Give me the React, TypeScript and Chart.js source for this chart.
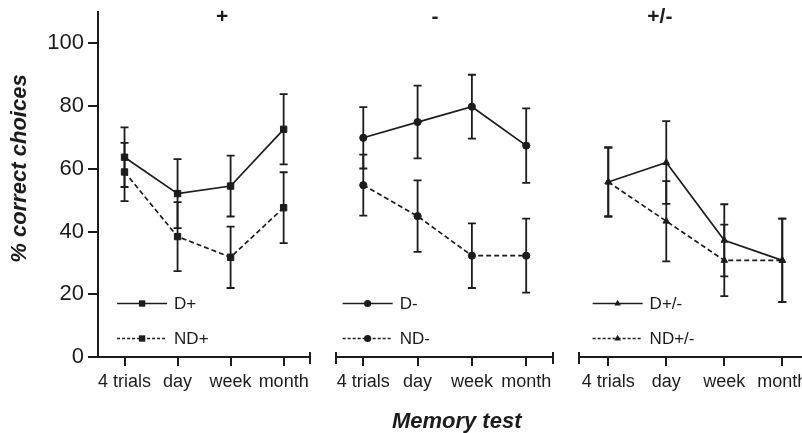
import React, { useEffect, useRef } from 'react';
import { Chart, registerables } from 'chart.js';

Chart.register(...registerables);

// ---------- data ----------
const categories = ['4 trials', 'day', 'week', 'month'];
const panelTitles = ['+', '-', '+/-'];
const yTicks = [0, 20, 40, 60, 80, 100];

const dPlus = [63.7, 52.1, 54.5, 72.6];
const errDPlus = [9.5, 11.0, 9.7, 11.2];
const ndPlus = [59.0, 38.4, 31.8, 47.6];
const errNdPlus = [9.3, 11.0, 9.8, 11.3];

const dMinus = [69.9, 74.9, 79.8, 67.4];
const errDMinus = [9.8, 11.6, 10.2, 11.9];
const ndMinus = [54.8, 44.9, 32.3, 32.3];
const errNdMinus = [9.7, 11.4, 10.3, 11.8];

const dPlusMinus = [55.8, 62.0, 37.2, 30.8];
const errDPlusMinus = [11.0, 13.2, 11.5, 13.3];
const ndPlusMinus = [55.8, 43.3, 30.8, 30.8];
const errNdPlusMinus = [11.0, 12.8, 11.4, 13.3];

const seriesLabels = [
  ['D+', 'ND+'],
  ['D-', 'ND-'],
  ['D+/-', 'ND+/-'],
];

// ---------- layout / style ----------
const INK = '#1c1c1c';
const FONT = '"Liberation Sans", Arial, Helvetica, sans-serif';
const panelRanges = [
  [-0.5, 3.742],
  [-0.742, 3.733],
  [-0.729, 3.34],
];
const panelWeights = [225, 243, 236];
const markerStyles = ['rect', 'circle', 'triangle'];
const markerRadius = [4.5, 3.6, 3.8];
const titleX = [1.84, 1.32, 0.89];
const titleYValue = 108.4;
const legendX = [-0.14, -0.38, -0.27];
const legendYValues = [17.3, 5.9];

function drawMarker(ctx: CanvasRenderingContext2D, style: string, x: number, y: number, r: number) {
  ctx.beginPath();
  if (style === 'rect') {
    const s = Math.SQRT1_2 * r;
    ctx.rect(x - s, y - s, 2 * s, 2 * s);
  } else if (style === 'circle') {
    ctx.arc(x, y, r, 0, Math.PI * 2);
  } else {
    let rad = 0;
    const t = (2 * Math.PI) / 3;
    ctx.moveTo(x + Math.sin(rad) * r, y - Math.cos(rad) * r);
    rad += t;
    ctx.lineTo(x + Math.sin(rad) * r, y - Math.cos(rad) * r);
    rad += t;
    ctx.lineTo(x + Math.sin(rad) * r, y - Math.cos(rad) * r);
    ctx.closePath();
  }
  ctx.fillStyle = INK;
  ctx.fill();
}

const customPlugin = {
  id: 'customDecor',
  beforeDatasetsDraw(chart: any) {
    const ctx: CanvasRenderingContext2D = chart.ctx;
    const yScale = chart.scales.y;
    ctx.save();
    ctx.strokeStyle = INK;
    ctx.lineWidth = 1.8;
    chart.data.datasets.forEach((ds: any) => {
      const xs = chart.scales[ds.xAxisID];
      ds.data.forEach((pt: any, i: number) => {
        const e = ds.errors[i];
        const px = xs.getPixelForValue(pt.x);
        const top = yScale.getPixelForValue(pt.y + e);
        const bot = yScale.getPixelForValue(pt.y - e);
        ctx.beginPath();
        ctx.moveTo(px, top);
        ctx.lineTo(px, bot);
        ctx.moveTo(px - 4, top);
        ctx.lineTo(px + 4, top);
        ctx.moveTo(px - 4, bot);
        ctx.lineTo(px + 4, bot);
        ctx.stroke();
      });
    });
    ctx.restore();
  },
  afterDraw(chart: any) {
    const ctx: CanvasRenderingContext2D = chart.ctx;
    const yScale = chart.scales.y;
    const y0 = chart.chartArea.bottom;
    ctx.save();
    ctx.strokeStyle = INK;
    ctx.fillStyle = INK;
    for (let p = 0; p < 3; p++) {
      const xs = chart.scales['x' + p];
      const a = xs.getPixelForValue(-0.5);
      const b = xs.getPixelForValue(categories.length - 0.5);
      ctx.lineWidth = 2;
      ctx.setLineDash([]);
      ctx.beginPath();
      ctx.moveTo(p === 0 ? a - 1 : a, y0);
      ctx.lineTo(b, y0);
      categories.forEach((_, i) => {
        const px = Math.round(xs.getPixelForValue(i));
        ctx.moveTo(px, y0);
        ctx.lineTo(px, y0 + 9);
      });
      if (p > 0) {
        ctx.moveTo(Math.round(a), y0 - 5);
        ctx.lineTo(Math.round(a), y0 + 7);
      }
      ctx.moveTo(Math.round(b), y0 - 5);
      ctx.lineTo(Math.round(b), y0 + 7);
      ctx.stroke();

      // panel title
      ctx.font = `bold 21px ${FONT}`;
      ctx.textAlign = 'center';
      ctx.textBaseline = 'middle';
      ctx.fillText(panelTitles[p], xs.getPixelForValue(titleX[p]), yScale.getPixelForValue(titleYValue));

      // legend
      const lx = xs.getPixelForValue(legendX[p]);
      for (let k = 0; k < 2; k++) {
        const ly = Math.round(yScale.getPixelForValue(legendYValues[k])) + 0.5;
        ctx.lineWidth = k === 0 ? 1.6 : 1.5;
        ctx.setLineDash(k === 0 ? [] : [3, 2]);
        ctx.beginPath();
        ctx.moveTo(lx, ly);
        ctx.lineTo(lx + 50, ly);
        ctx.stroke();
        ctx.setLineDash([]);
        drawMarker(ctx, markerStyles[p], lx + 25, ly, markerRadius[p]);
        ctx.font = `17px ${FONT}`;
        ctx.textAlign = 'left';
        ctx.textBaseline = 'middle';
        ctx.fillText(seriesLabels[p][k], lx + 57, ly + 1);
      }
    }

    // y axis title
    ctx.save();
    ctx.translate(20, (chart.chartArea.top + y0) / 2 - 16);
    ctx.rotate(-Math.PI / 2);
    ctx.font = `italic bold 22px ${FONT}`;
    ctx.textAlign = 'center';
    ctx.textBaseline = 'middle';
    ctx.fillText('% correct choices', 0, 0);
    ctx.restore();

    // x axis title
    ctx.font = `italic bold 22px ${FONT}`;
    ctx.textAlign = 'center';
    ctx.textBaseline = 'middle';
    ctx.fillText('Memory test', chart.scales.x1.getPixelForValue(1.72), chart.height - 11);
    ctx.restore();
  },
};

const panelData = [
  [dPlus, errDPlus, ndPlus, errNdPlus],
  [dMinus, errDMinus, ndMinus, errNdMinus],
  [dPlusMinus, errDPlusMinus, ndPlusMinus, errNdPlusMinus],
];

export default function App() {
  const canvasRef = useRef<HTMLCanvasElement | null>(null);

  useEffect(() => {
    if (!canvasRef.current) return;
    Chart.defaults.font.family = FONT;

    const datasets: any[] = [];
    panelData.forEach((pd, p) => {
      for (let k = 0; k < 2; k++) {
        const values = pd[k * 2] as number[];
        const errors = pd[k * 2 + 1] as number[];
        datasets.push({
          label: seriesLabels[p][k],
          xAxisID: 'x' + p,
          yAxisID: 'y',
          data: values.map((v, i) => ({ x: i, y: v })),
          errors,
          borderColor: INK,
          backgroundColor: INK,
          borderWidth: 1.7,
          borderDash: k === 0 ? [] : [5, 3],
          pointStyle: markerStyles[p],
          pointRadius: markerRadius[p],
          pointBorderWidth: 1,
          pointBackgroundColor: INK,
          pointBorderColor: INK,
          tension: 0,
          fill: false,
          clip: false,
        });
      }
    });

    const scales: any = {
      y: {
        type: 'linear',
        position: 'left',
        min: 0,
        max: 110,
        afterBuildTicks: (s: any) => {
          s.ticks = yTicks.map((v) => ({ value: v }));
        },
        afterFit: (s: any) => {
          s.width = 98;
          s.paddingTop = 0;
          s.paddingBottom = 0;
        },
        border: { display: true, color: INK, width: 2 },
        grid: { display: true, drawOnChartArea: false, drawTicks: true, tickLength: 10, color: INK, lineWidth: 2 },
        ticks: { color: INK, font: { size: 22, family: FONT }, padding: 4 },
      },
    };
    for (let p = 0; p < 3; p++) {
      scales['x' + p] = {
        type: 'linear',
        position: 'bottom',
        stack: 'panels',
        stackWeight: panelWeights[p],
        min: panelRanges[p][0],
        max: panelRanges[p][1],
        afterBuildTicks: (s: any) => {
          s.ticks = categories.map((_, i) => ({ value: i }));
        },
        afterFit: (s: any) => {
          s.height = 76;
          s.paddingLeft = 0;
          s.paddingRight = 0;
        },
        border: { display: false },
        grid: { display: false, drawTicks: false },
        ticks: {
          autoSkip: false,
          maxRotation: 0,
          minRotation: 0,
          padding: 14,
          color: INK,
          font: { size: 18, family: FONT },
          callback: (v: any) => categories[Math.round(Number(v))] ?? '',
        },
      };
    }

    const chart = new Chart(canvasRef.current, {
      type: 'line',
      data: { datasets },
      options: {
        animation: false,
        responsive: false,
        layout: { autoPadding: false, padding: { top: 12, left: 0, right: 0, bottom: 0 } },
        plugins: {
          legend: { display: false },
          tooltip: { enabled: false },
          title: { display: false },
        },
        scales,
      } as any,
      plugins: [customPlugin as any],
    });
    return () => chart.destroy();
  }, []);

  return (
    <div style={{ position: 'fixed', left: 0, top: 0, width: 802, height: 433, background: '#fff' }}>
      <canvas ref={canvasRef} width={802} height={433} style={{ width: 802, height: 433, display: 'block' }} />
    </div>
  );
}
